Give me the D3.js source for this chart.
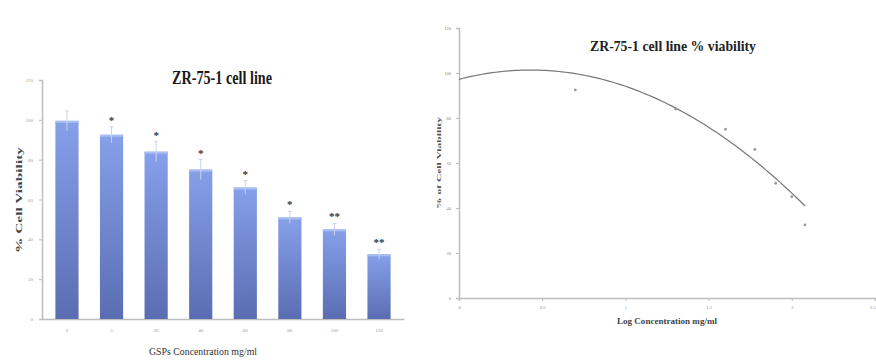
<!DOCTYPE html>
<html>
<head>
<meta charset="utf-8">
<script src="https://cdn.jsdelivr.net/npm/d3@7"></script>
<style>
  body { margin: 0; background: #fff; }
  svg { display: block; }
  text { font-family: "Liberation Serif", "Times New Roman", serif; }
</style>
</head>
<body>
<div id="chart"></div>
<script>
// data
const concentrations = ["0", "5", "20", "40", "60", "80", "100", "120"];
const viability = [99.5, 92.5, 84, 75, 66, 51, 45, 32.5];
const viabilityErr = [5, 4, 5, 5, 3.5, 3, 3, 2.5];
const significance = ["", "*", "*", "*", "*", "*", "**", "**"];
const yTicks = [0, 20, 40, 60, 80, 100, 120];
const logTicks = [0, 0.5, 1, 1.5, 2, 2.5];
// log10 of the non-zero concentrations, with their viability
const logConc = [0.699, 1.301, 1.602, 1.778, 1.903, 2.0, 2.079];
const logViability = [92.5, 84, 75, 66, 51, 45, 32.5];
// 2nd order polynomial trendline y = c0 + c1*x + c2*x^2 (as drawn in the figure)
const trendCoef = [97.2, 19.1, -22.2];

const svg = d3.select("#chart").append("svg")
    .attr("width", 876)
    .attr("height", 361);

const defs = svg.append("defs");
const grad = defs.append("linearGradient")
    .attr("id", "barGrad")
    .attr("x1", 0).attr("y1", 0).attr("x2", 0).attr("y2", 1);
grad.append("stop").attr("offset", "0%").attr("stop-color", "#86a0ea");
grad.append("stop").attr("offset", "100%").attr("stop-color", "#5a6db2");

// ---------- left: bar chart ----------
const left = {x0: 42, x1: 404, yTop: 80, yBot: 319};
const g1 = svg.append("g");

const xBand = d3.scaleBand()
    .domain(concentrations)
    .range([left.x0, left.x1])
    .paddingInner(0.48)
    .paddingOuter(0.3);
const y1 = d3.scaleLinear().domain([0, 120]).range([left.yBot, left.yTop]);

g1.append("g")
    .attr("transform", "translate(" + left.x0 + ",0)")
    .call(d3.axisLeft(y1).tickValues(yTicks).tickSize(3).tickPadding(6))
    .call(g => g.select(".domain").attr("stroke", "#bdbdbd").attr("stroke-width", 1.5))
    .call(g => g.selectAll(".tick line").attr("stroke", "#bdbdbd"))
    .call(g => g.selectAll(".tick text").attr("font-size", 5).attr("fill", "#999")
        .attr("font-family", "Liberation Serif"));

g1.append("g")
    .attr("transform", "translate(0," + left.yBot + ")")
    .call(d3.axisBottom(xBand).tickSize(0).tickPadding(9))
    .call(g => g.select(".domain").attr("stroke", "#bdbdbd").attr("stroke-width", 1.5))
    .call(g => g.selectAll(".tick text").attr("font-size", 5).attr("fill", "#999")
        .attr("font-family", "Liberation Serif"));

const barG = g1.selectAll(".barG")
    .data(concentrations)
    .join("g")
    .attr("class", "barG");

barG.append("rect")
    .attr("x", d => xBand(d))
    .attr("width", xBand.bandwidth())
    .attr("y", (d, i) => y1(viability[i]))
    .attr("height", (d, i) => y1(0) - y1(viability[i]))
    .attr("fill", "url(#barGrad)");

// lighter cap at top of each bar
barG.append("rect")
    .attr("x", d => xBand(d))
    .attr("width", xBand.bandwidth())
    .attr("y", (d, i) => y1(viability[i]))
    .attr("height", 2)
    .attr("fill", "#a8bdf2");

// error bars
barG.append("line")
    .attr("x1", d => xBand(d) + xBand.bandwidth() / 2)
    .attr("x2", d => xBand(d) + xBand.bandwidth() / 2)
    .attr("y1", (d, i) => y1(viability[i] + viabilityErr[i]))
    .attr("y2", (d, i) => y1(viability[i] - viabilityErr[i]))
    .attr("stroke", "#c9d3ee")
    .attr("stroke-width", 1);
barG.append("line")
    .attr("x1", d => xBand(d) + xBand.bandwidth() / 2 - 2)
    .attr("x2", d => xBand(d) + xBand.bandwidth() / 2 + 2)
    .attr("y1", (d, i) => y1(viability[i] + viabilityErr[i]))
    .attr("y2", (d, i) => y1(viability[i] + viabilityErr[i]))
    .attr("stroke", "#c9d3ee");

barG.append("text")
    .attr("x", d => xBand(d) + xBand.bandwidth() / 2)
    .attr("y", (d, i) => y1(viability[i] + viabilityErr[i]) - 3)
    .attr("text-anchor", "middle")
    .attr("font-size", 11)
    .attr("font-weight", "bold")
    .attr("fill", "#333")
    .text((d, i) => significance[i]);

g1.append("text")
    .attr("x", 222)
    .attr("y", 84)
    .attr("text-anchor", "middle")
    .attr("font-size", 19)
    .attr("font-weight", "bold")
    .attr("fill", "#1a1a1a")
    .attr("textLength", 100)
    .attr("lengthAdjust", "spacingAndGlyphs")
    .text("ZR-75-1 cell line");

g1.append("text")
    .attr("x", 203)
    .attr("y", 355)
    .attr("text-anchor", "middle")
    .attr("font-size", 10)
    .attr("fill", "#333")
    .attr("textLength", 108)
    .attr("lengthAdjust", "spacingAndGlyphs")
    .text("GSPs Concentration mg/ml");

g1.append("text")
    .attr("transform", "translate(22,200) rotate(-90)")
    .attr("text-anchor", "middle")
    .attr("font-size", 9)
    .attr("font-weight", "bold")
    .attr("fill", "#444")
    .attr("textLength", 106)
    .attr("lengthAdjust", "spacingAndGlyphs")
    .text("% Cell Viability");

// ---------- right: log concentration scatter ----------
const right = {x0: 459, yTop: 28, yBot: 298};
const g2 = svg.append("g");

const xLog = d3.scaleLinear().domain([0, 2.5]).range([right.x0, 875]);
const y2 = d3.scaleLinear().domain([0, 120]).range([right.yBot, right.yTop]);

g2.append("g")
    .attr("transform", "translate(" + right.x0 + ",0)")
    .call(d3.axisLeft(y2).tickValues(yTicks).tickSize(3).tickPadding(5))
    .call(g => g.select(".domain").attr("stroke", "#bdbdbd").attr("stroke-width", 1.5))
    .call(g => g.selectAll(".tick line").attr("stroke", "#bdbdbd"))
    .call(g => g.selectAll(".tick text").attr("font-size", 4.5).attr("fill", "#888")
        .attr("font-family", "Liberation Serif"));

g2.append("g")
    .attr("transform", "translate(0," + right.yBot + ")")
    .call(d3.axisBottom(xLog).tickValues(logTicks).tickSize(3).tickPadding(5)
        .tickFormat(d3.format("")))
    .call(g => g.select(".domain").attr("stroke", "#bdbdbd").attr("stroke-width", 1.5))
    .call(g => g.selectAll(".tick line").attr("stroke", "#bdbdbd"))
    .call(g => g.selectAll(".tick text").attr("font-size", 4.5).attr("fill", "#888")
        .attr("font-family", "Liberation Serif")
        .attr("text-anchor", d => d === 2.5 ? "end" : "middle"));

// trendline
const trendX = d3.range(0, 2.081, 0.02);
const poly = x => trendCoef[0] + trendCoef[1] * x + trendCoef[2] * x * x;
g2.append("path")
    .datum(trendX)
    .attr("fill", "none")
    .attr("stroke", "#777")
    .attr("stroke-width", 1.2)
    .attr("d", d3.line().x(d => xLog(d)).y(d => y2(poly(d))));

g2.selectAll(".pt")
    .data(logConc)
    .join("circle")
    .attr("class", "pt")
    .attr("cx", d => xLog(d))
    .attr("cy", (d, i) => y2(logViability[i]))
    .attr("r", 1.4)
    .attr("fill", "#999");

g2.append("text")
    .attr("x", 673)
    .attr("y", 51)
    .attr("text-anchor", "middle")
    .attr("font-size", 14)
    .attr("font-weight", "bold")
    .attr("fill", "#222")
    .attr("textLength", 166)
    .attr("lengthAdjust", "spacingAndGlyphs")
    .text("ZR-75-1 cell line % viability");

g2.append("text")
    .attr("x", 667)
    .attr("y", 324)
    .attr("text-anchor", "middle")
    .attr("font-size", 9)
    .attr("font-weight", "bold")
    .attr("fill", "#444")
    .attr("textLength", 100)
    .attr("lengthAdjust", "spacingAndGlyphs")
    .text("Log Concentration mg/ml");

g2.append("text")
    .attr("transform", "translate(441,163) rotate(-90)")
    .attr("text-anchor", "middle")
    .attr("font-size", 6)
    .attr("font-weight", "bold")
    .attr("fill", "#555")
    .attr("textLength", 92)
    .attr("lengthAdjust", "spacingAndGlyphs")
    .text("% of Cell Viability");
</script>
</body>
</html>
